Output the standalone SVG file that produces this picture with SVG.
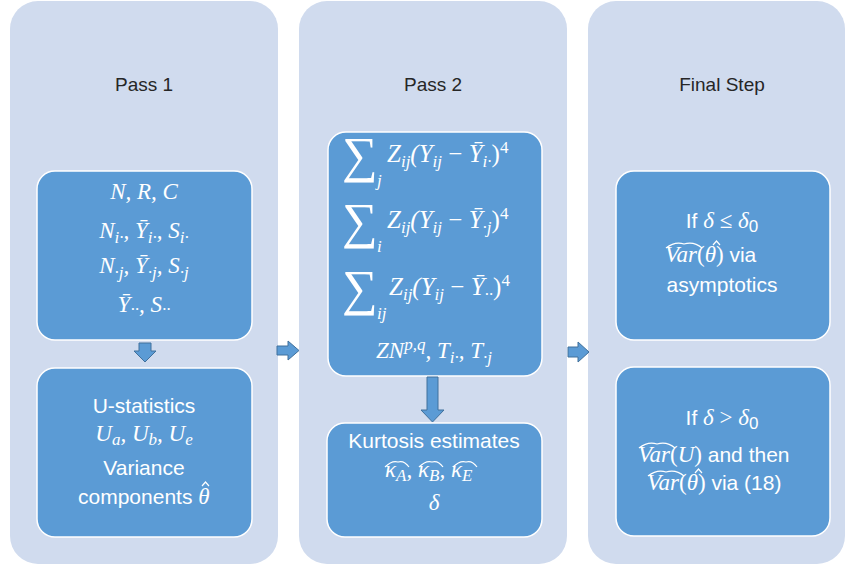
<svg xmlns="http://www.w3.org/2000/svg" width="846" height="569" viewBox="0 0 846 569">
<style>
.col{fill:#D0DBEE}
.box{fill:#5B9BD5;stroke:#FFFFFF;stroke-width:1.5}
.arr{fill:#5B9BD5;stroke:#41719C;stroke-width:1}
.title{font-family:"Liberation Sans",Arial,sans-serif;font-size:19px;fill:#262626;text-anchor:middle}
.s{font-family:"Liberation Sans",Arial,sans-serif;font-size:21px;fill:#FFFFFF}
.m{font-family:"Liberation Serif","Times New Roman",serif;font-style:italic;font-size:23px;fill:#FFFFFF}
.c{text-anchor:middle}
.sb{font-size:17px}
.up{font-style:normal}
.hat{fill:none;stroke:#FFFFFF;stroke-width:1.2}
.sum{font-family:"Liberation Serif","Times New Roman",serif;font-size:50px;fill:#FFFFFF}
.big{font-size:25px}
</style>
<rect width="846" height="569" fill="#FFFFFF"/>
<g id="col-pass1"><rect class="col" x="10" y="1" width="268" height="563" rx="28"/><text class="title" x="144" y="91">Pass 1</text></g>
<g id="col-pass2"><rect class="col" x="299" y="1" width="268" height="563" rx="28"/><text class="title" x="433" y="91">Pass 2</text></g>
<g id="col-final"><rect class="col" x="588" y="1" width="257" height="563" rx="28"/><text class="title" x="722" y="91">Final Step</text></g>

<g id="p1-stats">
<rect class="box" x="37" y="171" width="215" height="169" rx="18"/>
<text class="m c" x="144" y="199">N, R, C</text>
<text class="m c" x="144" y="238">N<tspan class="sb" dy="5">i·</tspan><tspan dy="-5">, Ȳ</tspan><tspan class="sb" dy="5">i·</tspan><tspan dy="-5">, S</tspan><tspan class="sb" dy="5">i·</tspan></text>
<text class="m c" x="144" y="273">N<tspan class="sb" dy="5">·j</tspan><tspan dy="-5">, Ȳ</tspan><tspan class="sb" dy="5">·j</tspan><tspan dy="-5">, S</tspan><tspan class="sb" dy="5">·j</tspan></text>
<text class="m c" x="144" y="312">Ȳ<tspan class="sb" dy="3">··</tspan><tspan dy="-3">, S</tspan><tspan class="sb" dy="3">··</tspan></text>
</g>
<g id="p1-ustat">
<rect class="box" x="37" y="368" width="215" height="169" rx="18"/>
<text class="s c" x="144" y="413">U-statistics</text>
<text class="m c" x="144" y="441">U<tspan class="sb" dy="4">a</tspan><tspan dy="-4">, U</tspan><tspan class="sb" dy="4">b</tspan><tspan dy="-4">, U</tspan><tspan class="sb" dy="4">e</tspan></text>
<text class="s c" x="144" y="475">Variance</text>
<text class="s" x="78" y="504">components <tspan class="m">θ</tspan></text>
<path class="hat" d="M202 486 L205.5 482 L209 486"/>
</g>
<g id="p2-sums">
<rect class="box" x="328" y="132" width="214" height="244" rx="18"/>
<text class="sum" x="342" y="172">∑</text>
<text class="m" x="377" y="186"><tspan class="sb">j</tspan></text>
<text class="m big" x="387" y="162">Z<tspan class="sb" dy="5">ij</tspan><tspan dy="-5">(Y</tspan><tspan class="sb" dy="5">ij</tspan><tspan class="up" dy="-5"> − </tspan>Ȳ<tspan class="sb" dy="5">i·</tspan><tspan class="up" dy="-5">)</tspan><tspan class="sb up" dy="-9">4</tspan></text>
<text class="sum" x="342" y="238">∑</text>
<text class="m" x="377" y="252"><tspan class="sb">i</tspan></text>
<text class="m big" x="387" y="228">Z<tspan class="sb" dy="5">ij</tspan><tspan dy="-5">(Y</tspan><tspan class="sb" dy="5">ij</tspan><tspan class="up" dy="-5"> − </tspan>Ȳ<tspan class="sb" dy="5">·j</tspan><tspan class="up" dy="-5">)</tspan><tspan class="sb up" dy="-9">4</tspan></text>
<text class="sum" x="342" y="305">∑</text>
<text class="m" x="377" y="319"><tspan class="sb">ij</tspan></text>
<text class="m big" x="389" y="295">Z<tspan class="sb" dy="5">ij</tspan><tspan dy="-5">(Y</tspan><tspan class="sb" dy="5">ij</tspan><tspan class="up" dy="-5"> − </tspan>Ȳ<tspan class="sb" dy="5">··</tspan><tspan class="up" dy="-5">)</tspan><tspan class="sb up" dy="-9">4</tspan></text>
<text class="m c" x="434" y="358">ZN<tspan class="sb" dy="-8">p,q</tspan><tspan dy="8">, T</tspan><tspan class="sb" dy="5">i·</tspan><tspan dy="-5">, T</tspan><tspan class="sb" dy="5">·j</tspan></text>
</g>
<g id="p2-kurt">
<rect class="box" x="327" y="423" width="215" height="114" rx="18"/>
<text class="s c" x="434" y="448">Kurtosis estimates</text>
<text class="m" x="385" y="477">κ<tspan class="sb" dy="4">A</tspan><tspan dy="-4">, κ</tspan><tspan class="sb" dy="4">B</tspan><tspan dy="-4">, κ</tspan><tspan class="sb" dy="4">E</tspan></text>
<path class="hat" d="M385 467 Q392 460 398 462 Q404 460 409 467"/>
<path class="hat" d="M419 467 Q426 460 432 462 Q438 460 443 467"/>
<path class="hat" d="M453 467 Q460 460 466 462 Q472 460 477 467"/>
<text class="m c" x="434" y="510">δ</text>
</g>
<g id="f-asym">
<rect class="box" x="616" y="171" width="214" height="169" rx="18"/>
<text class="s c" x="722" y="228">If <tspan class="m">δ <tspan class="up">≤</tspan> δ</tspan><tspan class="sb" dy="4">0</tspan></text>
<text class="s" x="665" y="262"><tspan class="m">Var<tspan class="up">(</tspan>θ<tspan class="up">)</tspan></tspan> via</text>
<path class="hat" d="M666 248 Q675 241 684 244 Q694 241 702 248"/>
<path class="hat" d="M713 245 L716.5 241 L720 245"/>
<text class="s c" x="722" y="292">asymptotics</text>
</g>
<g id="f-ustat">
<rect class="box" x="616" y="367" width="214" height="169" rx="18"/>
<text class="s c" x="722" y="425">If <tspan class="m">δ <tspan class="up">&gt;</tspan> δ</tspan><tspan class="sb" dy="4">0</tspan></text>
<text class="s" x="638" y="462"><tspan class="m">Var<tspan class="up">(</tspan>U<tspan class="up">)</tspan></tspan> and then</text>
<path class="hat" d="M639 448 Q648 441 657 444 Q667 441 675 448"/>
<text class="s" x="647" y="490"><tspan class="m">Var<tspan class="up">(</tspan>θ<tspan class="up">)</tspan></tspan> via (18)</text>
<path class="hat" d="M648 476 Q657 469 666 472 Q676 469 684 476"/>
<path class="hat" d="M695 473 L698.5 469 L702 473"/>
</g>
<g id="connectors">
<polygon class="arr" points="139,343 151,343 151,351 156,351 145,362 134,351 139,351"/>
<polygon class="arr" points="427,377 438,377 438,410 444,410 432.5,422 421,410 427,410"/>
<polygon class="arr" points="277,346 288,346 288,341 299,350.5 288,360 288,355 277,355"/>
<polygon class="arr" points="568,347 578,347 578,342 589,352 578,362 578,357 568,357"/>
</g>
</svg>
